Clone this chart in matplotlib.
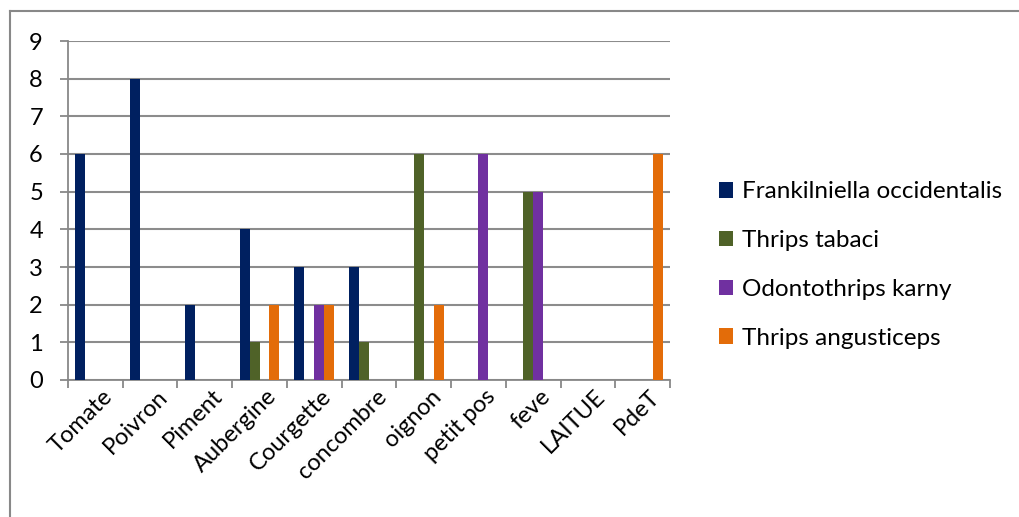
import matplotlib.pyplot as plt
import numpy as np

categories = ['Tomate', 'Poivron', 'Piment', 'Aubergine', 'Courgette', 'concombre',
              'oignon', 'petit pos', 'feve', 'LAITUE', 'PdeT']
series = ['Frankilniella occidentalis', 'Thrips tabaci', 'Odontothrips karny', 'Thrips angusticeps']
frankliniella = [6, 8, 2, 4, 3, 3, 0, 0, 0, 0, 0]
tabaci = [0, 0, 0, 1, 0, 1, 6, 0, 5, 0, 0]
karny = [0, 0, 0, 0, 2, 0, 0, 6, 5, 0, 0]
angusticeps = [0, 0, 0, 2, 2, 0, 2, 0, 0, 0, 6]
colors = ['#002060', '#4F6228', '#7030A0', '#E36C09']

plt.rcParams['font.family'] = ['Lato', 'DejaVu Sans']

fig = plt.figure(figsize=(10.19, 5.17), dpi=100)
ax = fig.add_axes([68 / 1019, 1 - 380 / 517, (670 - 68) / 1019, (380 - 41) / 517])

x = np.arange(len(categories))
w = 1 / 5.5
data = [frankliniella, tabaci, karny, angusticeps]
for i, vals in enumerate(data):
    ax.bar(x + (i - 1.5) * w, vals, w, color=colors[i], label=series[i], zorder=3)

ax.set_xlim(-0.5, len(categories) - 0.5)
ax.set_ylim(0, 9)
ax.set_yticks(range(0, 10))
ax.set_xticks(np.arange(-0.5, len(categories), 1))
ax.set_xticklabels([])
ax.set_xticks(x + 0.12, minor=True)
ax.set_xticklabels(categories, minor=True, rotation=45, ha='right',
                   rotation_mode='anchor', fontsize=17)
ax.tick_params(axis='x', which='minor', length=0, pad=4)
ax.tick_params(axis='x', which='major', length=6, color='#888888', width=1.3)
ax.tick_params(axis='y', length=6, color='#888888', width=1.3, labelsize=17, pad=12)

ax.grid(axis='y', color='#8c8c8c', linewidth=1.5, zorder=0)
for s in ['top', 'right']:
    ax.spines[s].set_visible(False)
for s in ['left', 'bottom']:
    ax.spines[s].set_color('#888888')
    ax.spines[s].set_linewidth(1.3)

handles, labels = ax.get_legend_handles_labels()
fig.legend(handles, labels, loc='center left', bbox_to_anchor=(697 / 1019, 1 - 265 / 517),
           frameon=False, fontsize=17.5, handlelength=0.6, handleheight=0.6,
           handletextpad=0.35, labelspacing=1.14)

# outer chart frame
fig.add_artist(plt.Line2D([10 / 1019, 1], [1 - 11 / 517, 1 - 11 / 517],
                          transform=fig.transFigure, color='#888888', linewidth=1.5))
fig.add_artist(plt.Line2D([10 / 1019, 10 / 1019], [0, 1 - 11 / 517],
                          transform=fig.transFigure, color='#888888', linewidth=1.5))

fig.savefig('out.png', dpi=100)
